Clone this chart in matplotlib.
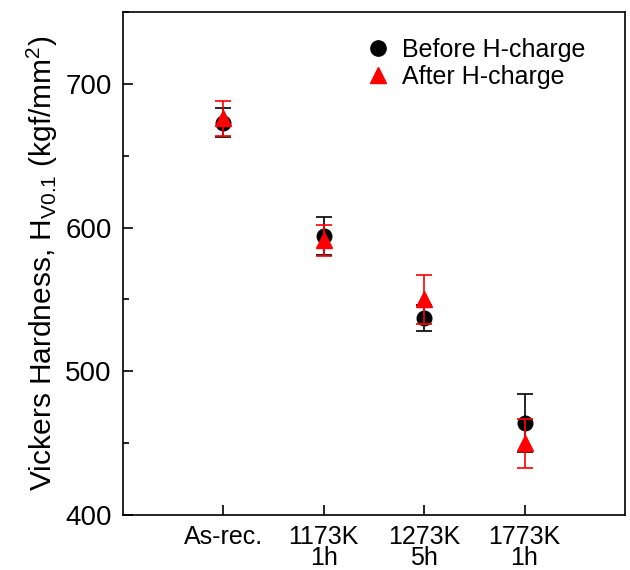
import matplotlib
matplotlib.use("Agg")
import matplotlib.pyplot as plt
from matplotlib.ticker import MultipleLocator
from matplotlib.lines import Line2D

plt.rcParams['font.family'] = ['Liberation Sans', 'DejaVu Sans']
plt.rcParams['mathtext.fontset'] = 'custom'
plt.rcParams['mathtext.rm'] = 'Liberation Sans'
plt.rcParams['mathtext.it'] = 'Liberation Sans:italic'
plt.rcParams['mathtext.bf'] = 'Liberation Sans:bold'

categories = ["As-rec.", "1173K\n1h", "1273K\n5h", "1773K\n1h"]
x_pos = [1, 2, 3, 4]
before_vals = [673, 594, 537, 464]
before_err = [10, 13, 9, 20]
after_vals = [676, 591, 550, 450]
after_err = [12, 10.5, 17, 17]

fig = plt.figure(figsize=(6.3, 5.7), dpi=100)
ax = fig.add_axes([0.195, 0.0965, 0.797, 0.8825])

ax.errorbar(x_pos, before_vals, yerr=before_err, fmt='o', color='black',
            ecolor='black', markersize=10.5, capsize=5.5, elinewidth=1.2,
            capthick=1.2, zorder=3)
ax.errorbar(x_pos, after_vals, yerr=after_err, fmt='^', color='red',
            ecolor='red', markersize=12, capsize=5.5, elinewidth=1.2,
            capthick=1.2, zorder=4)

ax.set_xlim(0, 5)
ax.set_ylim(400, 750)
ax.set_xticks(x_pos)
ax.set_xticklabels(categories, fontsize=18, linespacing=0.85)
ax.set_yticks([400, 500, 600, 700])
ax.yaxis.set_minor_locator(MultipleLocator(50))
ax.tick_params(axis='both', which='major', direction='in', length=7, width=1.2)
ax.tick_params(axis='y', labelsize=20, pad=8)
ax.tick_params(axis='x', labelsize=18, pad=7)
ax.tick_params(axis='y', which='minor', direction='in', length=4, width=1.2)
for s in ax.spines.values():
    s.set_linewidth(1.2)

ax.set_ylabel(r'Vickers Hardness, H$_{\mathrm{V0.1}}$ (kgf/mm$^{2}$)', fontsize=21.5, labelpad=4)

handles = [
    Line2D([], [], marker='o', color='black', linestyle='none', markersize=11),
    Line2D([], [], marker='^', color='red', linestyle='none', markersize=12),
]
labels = ['Before H-charge', 'After H-charge']
ax.legend(handles, labels, loc='upper left', bbox_to_anchor=(0.436, 0.983), frameon=False,
          fontsize=18, handletextpad=0.2, labelspacing=0.1, borderpad=0.2,
          handlelength=1.5)

fig.savefig("out.png", dpi=100)
